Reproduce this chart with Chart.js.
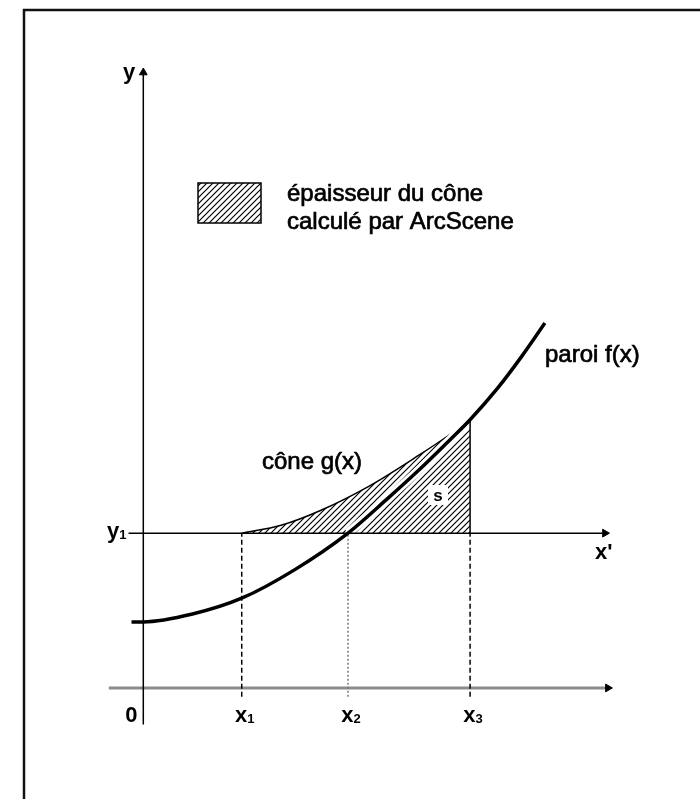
<!DOCTYPE html>
<html>
<head>
<meta charset="utf-8">
<script src="https://cdn.jsdelivr.net/npm/chart.js@4.4.1/dist/chart.umd.min.js"></script>
<style>
  html, body { margin: 0; padding: 0; background: #fff; }
  #wrap { width: 700px; height: 799px; }
</style>
</head>
<body>
<div id="wrap"><canvas id="c" width="700" height="799"></canvas></div>
<script>
// paroi f(x)
const fX = [-1.2, 0, 5, 10, 15.4, 20.8, 24.7, 28, 31.3, 33.2, 36, 38.5, 40.8];
const fY = [6.7, 6.7, 7.5, 9.1, 12.0, 15.7, 19.1, 22.1, 25.3, 27.2, 30.4, 33.7, 37.0];
// cône g(x)
const gX = [10, 14, 18, 23, 28, 31, 33.2];
const gY = [15.7, 16.5, 18.0, 20.5, 23.6, 25.6, 27.2];
// niveau y1 et abscisses x1, x2, x3
const y1 = 15.7;
const tickX = [0, 10, 20.8, 33.2];
const tickMain = ["0", "x", "x", "x"];
const tickSub = ["", "1", "2", "3"];
// étendue des axes
const axisXRange = [-3.5, 47.2];
const axisYRange = [-3.7, 62.4];
const y1Range = [-1.5, 46.9];
const tickFoot = -0.9;

const pts = (xs, ys) => xs.map((v, i) => ({ x: v, y: ys[i] }));
const seg = (a, b) => [a, b];

function hatch(step) {
  const c = document.createElement("canvas");
  c.width = c.height = step;
  const g = c.getContext("2d");
  g.strokeStyle = "#000";
  g.lineWidth = 1.2;
  g.beginPath();
  g.moveTo(0, step); g.lineTo(step, 0);
  g.moveTo(-1, 1); g.lineTo(1, -1);
  g.moveTo(step - 1, step + 1); g.lineTo(step + 1, step - 1);
  g.stroke();
  return g.createPattern(c, "repeat");
}
const hatchFill = hatch(6);

// partie de f dans la zone hachurée (halo blanc)
const haloPts = pts(fX, fY).filter(p => p.x >= tickX[2] && p.x <= tickX[3]);

const line = (data, o) => Object.assign({
  data, showLine: true, borderColor: "#000", borderWidth: 1.5,
  pointRadius: 0, pointHoverRadius: 0, tension: 0, fill: false
}, o);

const arrow = (rot) => ({
  pointRadius: [0, 4.5], pointStyle: "triangle", pointRotation: rot,
  pointBackgroundColor: "#000", pointBorderColor: "#000", pointBorderWidth: 1
});

const labels = {
  id: "labels",
  beforeDraw(chart) {
    const ctx = chart.ctx;
    ctx.save();
    ctx.fillStyle = "#fff";
    ctx.fillRect(0, 0, chart.width, chart.height);
    ctx.strokeStyle = "#111";
    ctx.lineWidth = 2.5;
    ctx.beginPath();
    ctx.moveTo(24, 799); ctx.lineTo(24, 10); ctx.lineTo(700, 10);
    ctx.stroke();
    ctx.restore();
  },
  afterDatasetsDraw(chart) {
    const ctx = chart.ctx;
    const X = v => chart.scales.x.getPixelForValue(v);
    const Y = v => chart.scales.y.getPixelForValue(v);
    ctx.save();
    ctx.fillStyle = "#000";
    ctx.strokeStyle = "#000";
    ctx.textBaseline = "alphabetic";

    const sub = (main, s, x, y, align) => {
      ctx.font = "bold 22px 'Liberation Sans', Arial, sans-serif";
      const w1 = ctx.measureText(main).width;
      ctx.font = "bold 13px 'Liberation Sans', Arial, sans-serif";
      const w2 = ctx.measureText(s).width;
      let left = align === "center" ? x - (w1 + w2) / 2 : align === "right" ? x - w1 - w2 : x;
      ctx.textAlign = "left";
      ctx.font = "bold 22px 'Liberation Sans', Arial, sans-serif";
      ctx.fillText(main, left, y);
      ctx.font = "bold 13px 'Liberation Sans', Arial, sans-serif";
      ctx.fillText(s, left + w1, y + 1);
    };
    const txt = (t, x, y) => {
      ctx.lineWidth = 0.7;
      ctx.fillText(t, x, y);
      ctx.strokeText(t, x, y);
    };

    // axes
    sub("y", "", X(0) - 8, Y(axisYRange[1]) + 6, "right");
    sub("y", "1", X(y1Range[0]) - 2, Y(y1) + 5, "right");
    sub("x'", "", X(y1Range[1]) - 10, Y(y1) + 26, "left");
    tickX.forEach((t, i) => {
      const off = i === 0 ? -12 : 3;
      sub(tickMain[i], tickSub[i], X(t) + off, Y(0) + 34, "center");
    });

    // zone s
    const sx = 438, sy = 495;
    ctx.fillStyle = "#fff";
    ctx.fillRect(sx - 10, sy - 10, 20, 20);
    ctx.fillStyle = "#000";
    ctx.font = "bold 17px 'Liberation Sans', Arial, sans-serif";
    ctx.textAlign = "center";
    ctx.fillText("s", sx, sy + 6);

    // textes
    ctx.textAlign = "left";
    ctx.font = "24px 'Liberation Sans', Arial, sans-serif";
    txt("cône g(x)", 262, 469);
    txt("paroi f(x)", 545, 362);

    // légende
    ctx.fillStyle = hatchFill;
    ctx.fillRect(198, 183, 63, 40);
    ctx.lineWidth = 1.5;
    ctx.strokeRect(198, 183, 63, 40);
    ctx.fillStyle = "#000";
    txt("épaisseur du cône", 287, 201);
    txt("calculé par ArcScene", 287, 229);
    ctx.restore();
  }
};

new Chart(document.getElementById("c"), {
  type: "scatter",
  data: {
    datasets: [
      // f(x)
      line(pts(fX, fY), { borderWidth: 3.5, cubicInterpolationMode: "monotone", order: 1 }),
      // axe y
      line(seg({ x: 0, y: axisYRange[0] }, { x: 0, y: axisYRange[1] }), Object.assign(arrow(0), { order: 2 })),
      // droite y1
      line(seg({ x: y1Range[0], y: y1 }, { x: y1Range[1], y: y1 }), Object.assign(arrow(90), { order: 3 })),
      // x3 plein
      line(seg({ x: tickX[3], y: y1 }, { x: tickX[3], y: fY[9] }), { order: 3 }),
      // verticales pointillées
      line(seg({ x: tickX[1], y: tickFoot }, { x: tickX[1], y: y1 }), { borderDash: [5, 3], order: 4 }),
      line(seg({ x: tickX[2], y: tickFoot }, { x: tickX[2], y: y1 }), { borderDash: [2, 2], borderColor: "#7a7a7a", order: 4 }),
      line(seg({ x: tickX[3], y: tickFoot }, { x: tickX[3], y: y1 }), { borderDash: [5, 3], order: 4 }),
      // axe x (gris)
      line(seg({ x: axisXRange[0], y: 0 }, { x: axisXRange[1], y: 0 }),
        Object.assign(arrow(90), { borderColor: "#8c8c8c", borderWidth: 3, order: 5 })),
      // halo blanc autour de f
      line(haloPts, { borderColor: "#fff", borderWidth: 9, cubicInterpolationMode: "monotone", order: 8 }),
      // g(x) + hachures jusqu'à y1
      line(pts(gX, gY), {
        borderWidth: 1.5, cubicInterpolationMode: "monotone",
        fill: { value: y1 }, backgroundColor: hatchFill, order: 9
      })
    ]
  },
  options: {
    responsive: false,
    animation: false,
    devicePixelRatio: 1,
    layout: { padding: 0 },
    events: [],
    scales: {
      x: { type: "linear", min: -14, max: 56, display: false },
      y: { type: "linear", min: -10.7, max: 69.2, display: false }
    },
    plugins: { legend: { display: false }, tooltip: { enabled: false } }
  },
  plugins: [labels]
});
</script>
</body>
</html>
